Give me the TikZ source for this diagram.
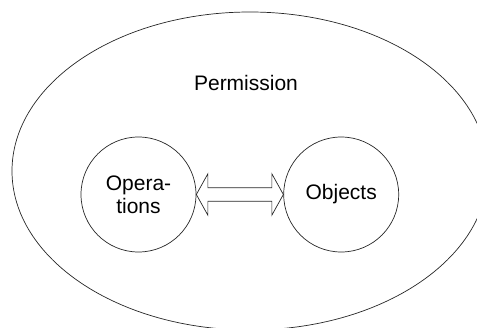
\documentclass[tikz,border=0pt]{standalone}
\usepackage{fontspec}
\setmainfont{Liberation Sans}
\usetikzlibrary{calc}
\usetikzlibrary{positioning}
\usetikzlibrary{shapes.geometric}

\begin{document}
\begin{tikzpicture}[x=1pt, y=-1pt, roundnode/.style={circle, draw=black!85, line width=0.7pt, minimum size=115pt, inner sep=0pt, font=\fontsize{21}{23.3}\selectfont, align=center}]
        \useasboundingbox (0,0) rectangle (477,327);
        \clip (0,0) rectangle (477,327);
        \node[ellipse, draw=black!85, line width=0.7pt, minimum width=476pt, minimum height=318pt, inner sep=0pt] (perm) at (250,171) {};
        \node[font=\fontsize{21}{23.3}\selectfont, anchor=base] (permtext) at (246,90) {Permission};
        \node[roundnode] (ops) at (138.5,194.5) {Opera-\\tions};
        \node[roundnode] (obj) [right=87pt of ops] {Objects};

        \draw[line width=0.7pt, draw=black!85] (ops.east) -- ++(11.5,-20.7) -- ++(0,14) -- ($(obj.west)+(-11.5,-6.7)$) -- ++(0,-14) -- (obj.west) -- ++(-11.5,20.7) -- ++(0,-14) -- ($(ops.east)+(11.5,6.7)$) -- ++(0,14) -- cycle;
    \end{tikzpicture}
\end{document}
